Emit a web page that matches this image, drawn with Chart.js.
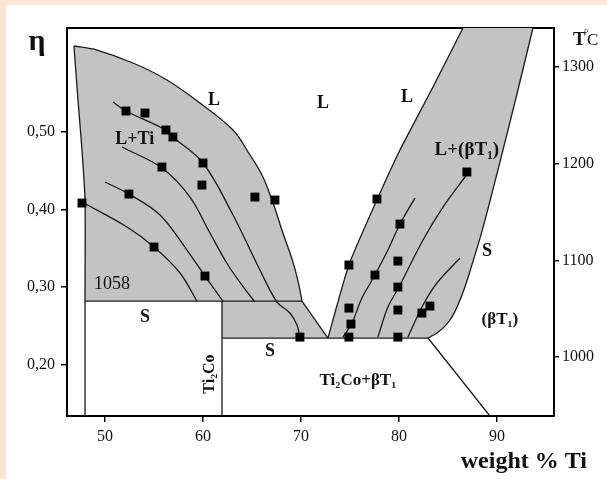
<!DOCTYPE html>
<html>
<head>
<meta charset="utf-8">
<script src="https://cdn.jsdelivr.net/npm/chart.js@4.4.1/dist/chart.umd.min.js"></script>
<style>
  html, body { margin: 0; padding: 0; background: #fbe5d9; }
  #marco { position: absolute; left: 6px; top: 5px; width: 601px; height: 474px; background: #fff; }
</style>
</head>
<body>
<div id="marco"><canvas id="grafica" width="601" height="474"></canvas></div>
<script>
// ejes
const ticksX = [50, 60, 70, 80, 90];
const ticksEta = [0.20, 0.30, 0.40, 0.50];
const ticksT = [1000, 1100, 1200, 1300];

// limites: [peso % Ti, eta]
const liquidusIzq = [[46.83, 0.6108], [49.18, 0.6056], [52.85, 0.5889], [56.32, 0.567], [59.69, 0.5373],
  [63.06, 0.5025], [64.79, 0.4703], [66.02, 0.4445], [67.04, 0.4123], [68.16, 0.3697],
  [69.18, 0.3323], [69.79, 0.3027], [70.1, 0.282]];
const bordeIzq = [[47.96, 0.282], [47.96, 0.4123], [47.65, 0.4767], [47.24, 0.5412], [46.83, 0.6108]];
const bandaInferior = [[61.94, 0.282], [70.1, 0.282], [72.75, 0.2344], [61.94, 0.2344]];
const liquidusDer = [[72.75, 0.2344], [74.89, 0.3285], [77.75, 0.4123], [80.1, 0.4767], [83.47, 0.5579], [86.53, 0.634]];
const solidusDer = [[93.67, 0.634], [92.14, 0.5541], [90.61, 0.4767], [89.18, 0.4058], [88.36, 0.367],
  [87.44, 0.3285], [86.73, 0.3001], [86.02, 0.2769], [85.4, 0.2614], [84.69, 0.2498], [83.87, 0.2408], [82.96, 0.2344]];
const solidus1058 = [[47.96, 0.282], [70.1, 0.282]];
const eutectica = [[61.94, 0.2344], [82.96, 0.2344]];
const limiteS = [[47.96, 0.282], [47.96, 0.1339]];
const limiteTi2Co = [[61.94, 0.282], [61.94, 0.1339]];
const diagonalV = [[70.1, 0.282], [72.75, 0.2344]];
const diagonalBeta = [[82.96, 0.2344], [89.28, 0.1339]];

// isotermas
const iso1 = [[50.81, 0.5386], [52.14, 0.527], [56.22, 0.5025], [56.93, 0.4935], [60.0, 0.46], [63.06, 0.393],
  [65.81, 0.322], [67.55, 0.2808], [68.87, 0.2666], [69.59, 0.2511], [69.89, 0.2356]];
const iso2 = [[51.73, 0.4806], [55.81, 0.4535], [58.67, 0.4161], [60.71, 0.3697], [62.55, 0.3285], [63.98, 0.3027], [65.3, 0.2808]];
const iso3 = [[50.0, 0.4355], [52.44, 0.42], [55.61, 0.393], [58.36, 0.3478], [60.2, 0.3143], [62.04, 0.282]];
const iso4 = [[47.65, 0.4097], [52.24, 0.3775], [55.0, 0.3517], [57.65, 0.3182], [59.38, 0.282]];
const isoD1 = [[81.63, 0.4148], [80.1, 0.3813], [78.87, 0.3478], [77.55, 0.3156], [76.22, 0.2859], [75.2, 0.2537], [74.28, 0.2356]];
const isoD2 = [[87.04, 0.4471], [84.49, 0.4032], [82.45, 0.3607], [80.0, 0.3001], [78.87, 0.2743], [77.85, 0.2356]];
const isoD3 = [[86.22, 0.3375], [83.87, 0.3053], [82.45, 0.2769], [80.91, 0.2356]];

// puntos medidos
const puntosX = [52.14, 54.08, 56.22, 56.93, 60.0, 59.89, 55.81, 52.44, 47.65, 65.3, 67.34, 55.0, 60.2, 69.89,
  77.75, 80.1, 86.93, 74.89, 79.89, 77.55, 79.89, 74.89, 75.1, 74.89, 79.89, 79.89, 83.16, 82.34];
const puntosEta = [0.527, 0.5244, 0.5025, 0.4935, 0.46, 0.4316, 0.4548, 0.42, 0.4084, 0.4161, 0.4123, 0.3517, 0.3143, 0.2356,
  0.4136, 0.3813, 0.4484, 0.3285, 0.3336, 0.3156, 0.3001, 0.273, 0.2524, 0.2356, 0.2705, 0.2356, 0.2756, 0.2666];

// rotulos
const rotulos = ['L', 'L', 'L', 'L+Ti', 'L+(βT₁)', 'S', '(βT₁)', '1058', 'S', 'S', 'Ti₂Co+βT₁'];
const rotulosX = [61.12, 72.24, 80.81, 53.04, 86.93, 88.98, 90.3, 50.71, 54.08, 66.83, 75.81];
const rotulosEta = [0.5412, 0.5373, 0.545, 0.4909, 0.4767, 0.3465, 0.2576, 0.304, 0.2614, 0.2176, 0.179];

const serif = "'Liberation Serif', 'Times New Roman', serif";
const gris = '#c3c3c3';
const negro = '#1a1a1a';

const pts = arr => arr.map(([x, y]) => ({ x: x, y: y }));

function relleno(arr) {
    const p = pts(arr);
    p.push(p[0]);
    return { data: p, showLine: true, fill: 'shape', backgroundColor: gris, borderWidth: 0,
             pointRadius: 0, tension: 0, order: 3 };
}

function linea(arr, tension) {
    return { data: pts(arr), showLine: true, fill: false, borderColor: negro, borderWidth: 1.3,
             pointRadius: 0, tension: tension || 0, order: 2 };
}

const datasets = [
    { data: puntosX.map((x, i) => ({ x: x, y: puntosEta[i] })), showLine: false, pointStyle: 'rect',
      pointRadius: 6.3, backgroundColor: '#000', borderColor: '#000', borderWidth: 0, order: 1 },
    linea(liquidusIzq, 0.35), linea(bordeIzq, 0.2), linea(solidus1058), linea(eutectica),
    linea(limiteS), linea(limiteTi2Co), linea(diagonalV), linea(diagonalBeta),
    linea(liquidusDer, 0.2), linea(solidusDer, 0.3),
    linea(iso1, 0.35), linea(iso2, 0.35), linea(iso3, 0.35), linea(iso4, 0.35),
    linea(isoD1, 0.35), linea(isoD2, 0.35), linea(isoD3, 0.35),
    relleno(liquidusIzq.concat([[47.96, 0.282]], bordeIzq.slice(1))),
    relleno(bandaInferior),
    relleno(liquidusDer.concat(solidusDer))
];

const rotulosPlugin = {
    id: 'rotulos',
    afterDatasetsDraw(chart) {
        const ctx = chart.ctx;
        const sx = chart.scales.x, sy = chart.scales.y;
        const area = chart.chartArea;
        ctx.save();
        ctx.fillStyle = '#111';
        ctx.textAlign = 'center';
        ctx.textBaseline = 'middle';
        rotulos.forEach((t, i) => {
            let f = 'bold 18px ';
            if (t === '1058') f = '18px ';
            else if (t.indexOf('β') >= 0) f = t.length > 6 ? 'bold 17px ' : 'bold 17px ';
            if (t === 'L+(βT₁)') f = 'bold 19px ';
            ctx.font = f + serif;
            ctx.fillText(t, sx.getPixelForValue(rotulosX[i]), sy.getPixelForValue(rotulosEta[i]));
        });
        // Ti2Co vertical
        ctx.save();
        ctx.translate(sx.getPixelForValue(60.71), sy.getPixelForValue(0.1879));
        ctx.rotate(-Math.PI / 2);
        ctx.font = 'bold 16px ' + serif;
        ctx.fillText('Ti₂Co', 0, 0);
        ctx.restore();

        // titulos de ejes
        ctx.font = 'bold 30px ' + serif;
        ctx.fillText('η', area.left - 30, area.top + 14);
        ctx.textAlign = 'left';
        ctx.font = 'bold 19px ' + serif;
        ctx.fillText('T', area.right + 19, area.top + 12);
        ctx.font = '11px ' + serif;
        ctx.fillText('°', area.right + 30, area.top + 6);
        ctx.font = '17px ' + serif;
        ctx.fillText('C', area.right + 33, area.top + 13);
        ctx.textAlign = 'right';
        ctx.font = 'bold 24px ' + serif;
        ctx.fillText('weight % Ti', area.right + 33, area.bottom + 46);
        ctx.restore();
    }
};

const ejeBase = {
    type: 'linear',
    grid: { drawOnChartArea: false, color: '#000', lineWidth: 1.5, tickLength: 6 },
    border: { color: '#000', width: 2 },
    ticks: { color: '#111', font: { family: serif, size: 16 } }
};

new Chart(document.getElementById('grafica').getContext('2d'), {
    type: 'scatter',
    data: { datasets: datasets },
    options: {
        responsive: false,
        animation: false,
        devicePixelRatio: 1,
        layout: { padding: { top: 23, left: 0, right: 0, bottom: 0 } },
        plugins: { legend: { display: false }, tooltip: { enabled: false } },
        scales: {
            x: Object.assign({}, ejeBase, {
                position: 'bottom', min: 46.12, max: 95.82,
                afterBuildTicks: s => { s.ticks = ticksX.map(v => ({ value: v })); },
                afterFit: s => { s.height = 63; },
                ticks: Object.assign({}, ejeBase.ticks, { padding: 5, maxRotation: 0 })
            }),
            x2: {
                type: 'linear', position: 'top', min: 46.12, max: 95.82,
                grid: { display: false }, ticks: { display: false },
                border: { color: '#000', width: 2 },
                afterFit: s => { s.height = 0; }
            },
            y: Object.assign({}, ejeBase, {
                position: 'left', min: 0.1339, max: 0.634,
                afterBuildTicks: s => { s.ticks = ticksEta.map(v => ({ value: v })); },
                afterFit: s => { s.width = 61; },
                ticks: Object.assign({}, ejeBase.ticks, { padding: 6,
                    callback: v => v.toFixed(2).replace('.', ',') })
            }),
            y2: Object.assign({}, ejeBase, {
                position: 'right', min: 939, max: 1340.3,
                afterBuildTicks: s => { s.ticks = ticksT.map(v => ({ value: v })); },
                afterFit: s => { s.width = 53; },
                grid: Object.assign({}, ejeBase.grid, { tickLength: 5 }),
                ticks: Object.assign({}, ejeBase.ticks, { padding: 3, callback: v => String(v) })
            })
        }
    },
    plugins: [rotulosPlugin]
});
</script>
</body>
</html>
